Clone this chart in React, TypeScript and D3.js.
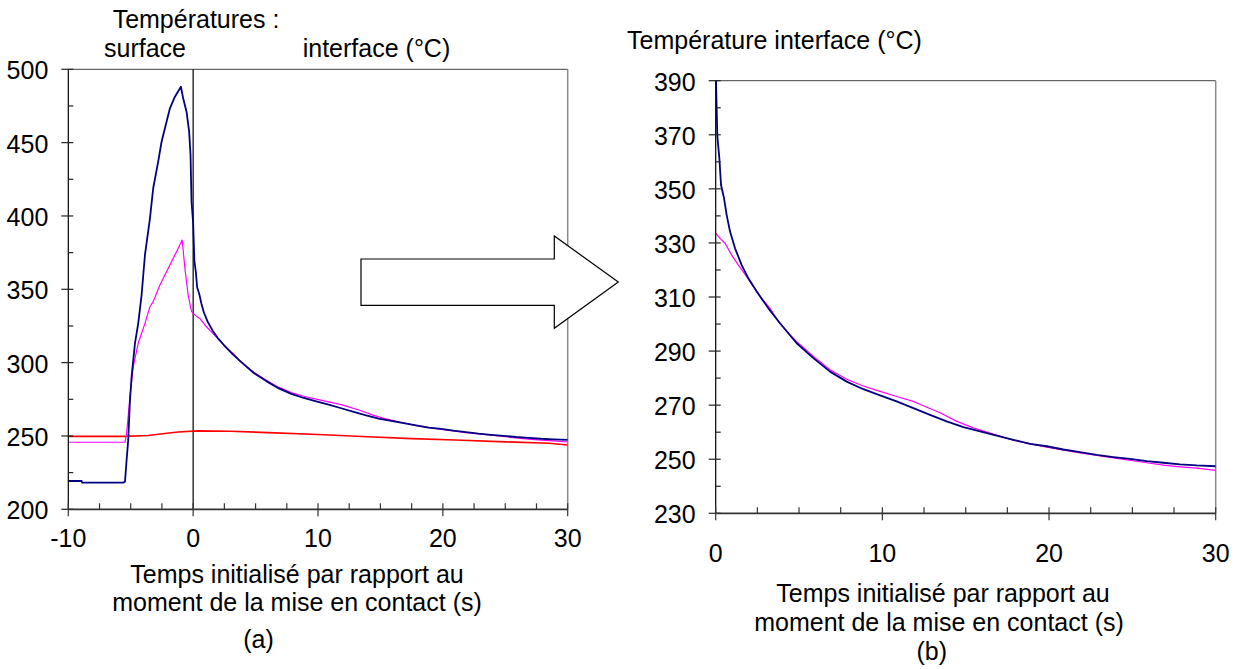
import React from 'react';
import * as d3 from 'd3';

// ---- Data (time in s, temperature in °C) ----
const tBlue = [-10, -8.93, -8.9, -5.6, -5.46, -5.33, -5.2, -5.06, -4.93, -4.66, -4.4, -4.13, -3.86, -3.46, -3.2, -2.8, -2.53, -2.26, -1.86, -1.46, -0.98, -0.8, -0.53, -0.32, -0.21, -0.13, 0, 0.06, 0.1, 0.22, 0.32, 0.5, 0.66, 0.86, 1.16, 1.56, 1.96, 2.46, 3.16, 3.86, 4.86, 5.86, 6.86, 7.86, 8.86, 9.86, 10.86, 11.86, 12.86, 13.86, 14.86, 15.86, 16.86, 17.86, 18.86, 19.86, 20.86, 21.86, 22.86, 23.86, 24.86, 25.86, 26.86, 27.86, 28.86, 30];
const vBlue = [219.3, 219.3, 218.2, 218.2, 218.8, 233.6, 247.3, 274.5, 290.4, 313.2, 326.8, 346.1, 373.4, 398.4, 418.9, 437.0, 450.6, 459.8, 473.4, 481.3, 488.1, 480.2, 471.1, 457.5, 441.6, 409.7, 395, 379, 369.3, 361.3, 351.4, 346.5, 340.3, 334.2, 328, 321.8, 316.9, 312, 305.8, 300.3, 292.9, 287.4, 282.4, 278.7, 275.9, 273.6, 271.4, 268.9, 266.4, 264.0, 261.9, 260.3, 258.7, 257.2, 255.7, 254.8, 253.6, 252.6, 251.6, 250.8, 250.1, 249.3, 248.7, 248.1, 247.7, 247.4];

const tMagenta = [-10, -5.46, -5.33, -5.06, -4.8, -4.4, -3.86, -3.46, -3.2, -2.66, -1.86, -1.33, -0.88, -0.66, -0.4, -0.13, 0, 0.26, 0.56, 0.96, 1.36, 1.86, 2.26, 2.76, 3.26, 3.76, 4.36, 4.86, 5.86, 6.86, 7.86, 8.86, 9.86, 10.86, 11.86, 12.46, 13.46, 14.46, 15.46, 16.46, 17.86, 19.86, 21.86, 23.86, 25.86, 26.86, 27.86, 28.86, 30];
const vMagenta = [245.7, 245.7, 251.8, 276.8, 297.2, 313.2, 326.8, 338.1, 341.6, 352.9, 366.6, 375.6, 383.6, 364.3, 346.1, 335.0, 333.6, 331.7, 329.9, 325.5, 321.8, 317.5, 313.8, 309.5, 305.8, 300.9, 296.6, 293.5, 288.0, 283.1, 279.6, 277.1, 275.1, 273.2, 271.4, 269.8, 267.2, 264.0, 261.6, 259.7, 257.0, 254.5, 252.3, 250.5, 248.7, 247.8, 247.2, 246.7, 245.9];

const tRed = [-10, -5.5, -3.6, -2.1, -1.2, 0.4, 3, 6, 10, 14, 17.5, 21, 25, 28.5, 30];
const vRed = [249.7, 249.7, 250.3, 251.8, 252.7, 253.5, 253.2, 252.3, 251.0, 249.5, 248.2, 247.2, 246.0, 245.0, 243.8];

// ---- Tick labels ----
const leftXTicks = [-10, 0, 10, 20, 30];
const leftYTicks = [200, 250, 300, 350, 400, 450, 500];
const rightXTicks = [0, 10, 20, 30];
const rightYTicks = [230, 250, 270, 290, 310, 330, 350, 370, 390];

const FONT = 'Liberation Sans, Arial, sans-serif';
const FS = 25;

type Series = { t: number[]; v: number[]; color: string; width: number };

function Panel(props: {
  id: string;
  left: number; right: number; top: number; bottom: number;
  xDomain: [number, number]; yDomain: [number, number];
  xTicks: number[]; yTicks: number[];
  xMinor: number; yMinor: number;
  xLabelDy: number;
  series: Series[];
  zeroLine?: boolean;
  tMin?: number;
}) {
  const { id, left, right, top, bottom, xDomain, yDomain, xTicks, yTicks, xMinor, yMinor, xLabelDy, series } = props;
  const x = d3.scaleLinear().domain(xDomain).range([left, right]);
  const y = d3.scaleLinear().domain(yDomain).range([bottom, top]);
  const xm = d3.range(xDomain[0], xDomain[1] + 1e-9, xMinor).filter(v => !xTicks.includes(v));
  const ym = d3.range(yDomain[0], yDomain[1] + 1e-9, yMinor).filter(v => !yTicks.includes(v));
  const line = d3.line<[number, number]>().x(d => x(d[0])).y(d => y(d[1]));
  return (
    <g>
      <defs>
        <clipPath id={id}>
          <rect x={left} y={top} width={right - left} height={bottom - top} />
        </clipPath>
      </defs>
      {/* frame */}
      <line x1={left} y1={top} x2={right} y2={top} stroke="#404040" strokeWidth={1} />
      <line x1={right} y1={top} x2={right} y2={bottom} stroke="#8a8a8a" strokeWidth={1.5} />
      {props.zeroLine && (
        <line x1={x(0)} y1={top} x2={x(0)} y2={bottom} stroke="#000" strokeWidth={1.2} />
      )}
      <g clipPath={`url(#${id})`}>
        {series.map((s, i) => {
          const pts: [number, number][] = s.t.map((t, k) => [t, s.v[k]] as [number, number])
            .filter(p => props.tMin === undefined || p[0] >= props.tMin);
          return <path key={i} d={line(pts) || ''} fill="none" stroke={s.color} strokeWidth={s.width} strokeLinejoin="round" />;
        })}
      </g>
      {/* y axis */}
      <line x1={left} y1={top} x2={left} y2={bottom} stroke="#000" strokeWidth={1.2} />
      {yTicks.map(v => (
        <g key={'y' + v}>
          <line x1={left - 7} x2={left + 5} y1={y(v)} y2={y(v)} stroke="#222" strokeWidth={1.2} />
          <text x={left - 20} y={y(v) + 10} textAnchor="end" fontFamily={FONT} fontSize={FS} fill="#000">{v}</text>
        </g>
      ))}
      {ym.map(v => (
        <line key={'ym' + v} x1={left} x2={left + 5} y1={y(v)} y2={y(v)} stroke="#222" strokeWidth={1.2} />
      ))}
      {/* x axis */}
      <line x1={left} y1={bottom} x2={right} y2={bottom} stroke="#333" strokeWidth={1.8} />
      {xTicks.map(v => (
        <g key={'x' + v}>
          <line x1={x(v)} x2={x(v)} y1={bottom - 6} y2={bottom + 7} stroke="#333" strokeWidth={1.2} />
          <text x={x(v)} y={bottom + xLabelDy} textAnchor="middle" fontFamily={FONT} fontSize={FS} fill="#000">{v}</text>
        </g>
      ))}
      {xm.map(v => (
        <line key={'xm' + v} x1={x(v)} x2={x(v)} y1={bottom - 6} y2={bottom} stroke="#333" strokeWidth={1.2} />
      ))}
    </g>
  );
}

export default function App() {
  const blue = '#000080';
  const magenta = '#ff00ff';
  const red = '#ff0000';
  const txt = (s: string, xx: number, yy: number) => (
    <text x={xx} y={yy} textAnchor="middle" fontFamily={FONT} fontSize={FS} fill="#000">{s}</text>
  );
  return (
    <svg width={1243} height={669} style={{ position: 'absolute', left: 0, top: 0, background: '#fff' }}>
      <rect x={0} y={0} width={1243} height={669} fill="#fff" />
      {/* left panel (a) */}
      {txt('Températures :', 196, 28)}
      {txt('surface', 145, 57)}
      {txt('interface (°C)', 376.5, 57)}
      <Panel
        id="clipA" left={68.3} right={567.7} top={69.3} bottom={509.3}
        xDomain={[-10, 30]} yDomain={[200, 500]}
        xTicks={leftXTicks} yTicks={leftYTicks} xMinor={2.5} yMinor={25}
        xLabelDy={37.5}
        zeroLine
        series={[
          { t: tRed, v: vRed, color: red, width: 1.6 },
          { t: tMagenta, v: vMagenta, color: magenta, width: 1.2 },
          { t: tBlue, v: vBlue, color: blue, width: 1.8 },
        ]}
      />
      {txt('Temps initialisé par rapport au', 297, 583)}
      {txt('moment de la mise en contact (s)', 297, 611)}
      {txt('(a)', 258.5, 648)}

      {/* arrow */}
      <polygon
        points="361,259 554.3,259 554.3,236 618.3,282 554.3,328.3 554.3,305.3 361,305.3"
        fill="#fff" stroke="#000" strokeWidth={1.2}
      />

      {/* right panel (b) */}
      {txt('Température interface (°C)', 774.5, 49)}
      <Panel
        id="clipB" left={715.7} right={1215.7} top={80.7} bottom={513.3}
        xDomain={[0, 30]} yDomain={[230, 390]}
        xTicks={rightXTicks} yTicks={rightYTicks} xMinor={2.5} yMinor={10}
        xLabelDy={48.4}
        tMin={0}
        series={[
          { t: tMagenta, v: vMagenta, color: magenta, width: 1.2 },
          { t: tBlue, v: vBlue, color: blue, width: 1.8 },
        ]}
      />
      {txt('Temps initialisé par rapport au', 943, 601.5)}
      {txt('moment de la mise en contact (s)', 939, 630.5)}
      {txt('(b)', 931.7, 660)}
    </svg>
  );
}
